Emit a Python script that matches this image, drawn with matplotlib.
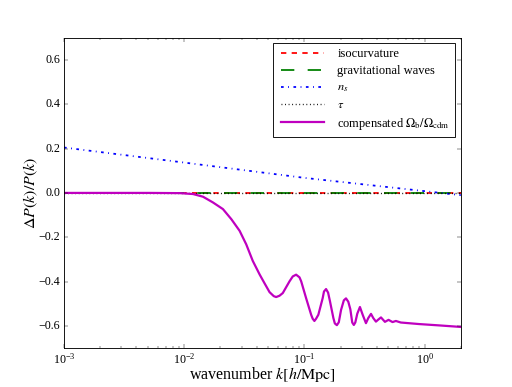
import matplotlib
matplotlib.use("Agg")
import matplotlib.pyplot as plt
import numpy as np

plt.style.use("classic")
plt.rcParams["font.family"] = "serif"
plt.rcParams["font.serif"] = ["Liberation Serif", "DejaVu Serif"]
plt.rcParams["mathtext.fontset"] = "stix"
plt.rcParams["lines.scale_dashes"] = False

# flat reference lines (isocurvature, tensor, tau) -- all zero
k_flat = [1e-3, 2.0]
iso = [0.0, 0.0]
gw = [0.0, 0.0]
tau = [0.0, 0.0]

# spectral index tilt
k_ns = [1e-3, 1e-2, 1e-1, 1.0, 2.0]
ns = [0.205, 0.137, 0.068, 0.008, -0.010]

# compensated baryon/CDM isocurvature
k_cip = [0.001, 0.00199, 0.00517, 0.00918, 0.01183, 0.01432, 0.01734, 0.0210,
         0.0247, 0.0289, 0.0328, 0.0372, 0.0424, 0.0466, 0.0513, 0.0556,
         0.0582, 0.0621, 0.0661, 0.0752, 0.0800, 0.0853, 0.0910, 0.0940,
         0.1033, 0.1138, 0.1172, 0.1211, 0.1250, 0.1306, 0.1419, 0.1455,
         0.1514, 0.1574, 0.1633, 0.1742, 0.1791, 0.1862, 0.1932, 0.2018,
         0.2128, 0.2218, 0.2317, 0.2410, 0.2500, 0.2577, 0.2650, 0.2754,
         0.2897, 0.3053, 0.3251, 0.3398, 0.3581, 0.3741,
         0.3936, 0.4112, 0.4335, 0.4677, 0.5011, 0.5408, 0.5768, 0.6339,
         0.90, 1.32, 2.0]
cip = [0.0, 0.0, 0.0, -0.001, -0.005, -0.017, -0.043, -0.073,
       -0.119, -0.171, -0.232, -0.307, -0.368, -0.408, -0.448, -0.466,
       -0.470, -0.464, -0.452, -0.399, -0.377, -0.369, -0.381, -0.399,
       -0.475, -0.550, -0.568, -0.578, -0.568, -0.550, -0.475, -0.445,
       -0.434, -0.450, -0.490, -0.565, -0.589, -0.597, -0.584, -0.528,
       -0.485, -0.476, -0.491, -0.525, -0.585, -0.596, -0.585, -0.545,
       -0.515, -0.550, -0.588, -0.565, -0.546, -0.565,
       -0.581, -0.572, -0.562, -0.582, -0.573, -0.583, -0.578, -0.585,
       -0.592, -0.598, -0.605]

fig = plt.figure(figsize=(8, 387 / 64), dpi=64)
ax = fig.add_axes([0.125, 0.1008, 0.775, 0.8014])

ax.plot(k_flat, iso, color="r", lw=2, dashes=(6, 6), label="isocurvature")
ax.plot(k_flat, gw, color="g", lw=2, dashes=(15, 15), label="gravitational waves")
ax.plot(k_ns, ns, color="b", lw=2, dashes=(3, 5, 1, 5), label="$n_s$")
ax.plot(k_flat, tau, color="k", lw=1.5, dashes=(1, 3), label=r"$\tau$")
ax.plot(k_cip, cip, color="m", lw=2.5,
        label=r"compensated $\Omega_{\rm b}/\Omega_{\rm cdm}$")

ax.set_xscale("log")
ax.set_xlim(1e-3, 2.0)
ax.set_ylim(-0.7, 0.7)
ax.set_yticks([-0.6, -0.4, -0.2, 0.0, 0.2, 0.4, 0.6])
ax.tick_params(labelsize=13.5)
ax.set_xlabel(r"wavenumber $k[h/\mathrm{Mpc}]$", fontsize=18, labelpad=-1)
ax.set_ylabel(r"$\Delta P(k)/P(k)$", fontsize=18, labelpad=-1.5)

leg = ax.legend(loc="upper right", fontsize=14, handlelength=4.0,
                borderaxespad=0.45, borderpad=0.4, labelspacing=0.38)
leg.get_frame().set_linewidth(1.0)

fig.savefig("out.png", dpi=64)
